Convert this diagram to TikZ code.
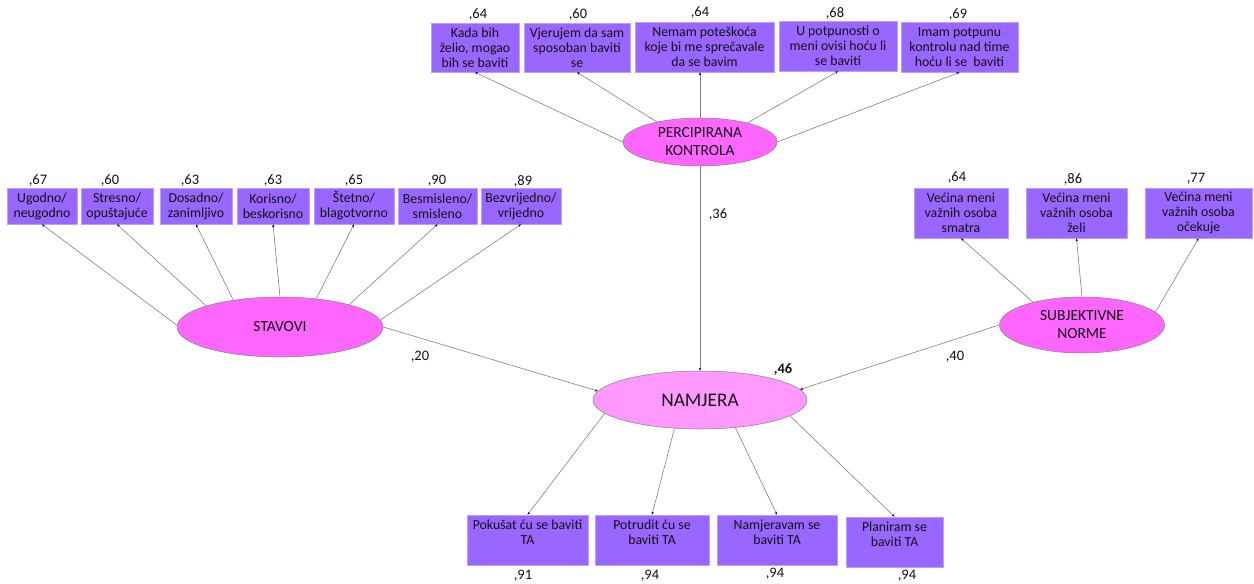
\documentclass[tikz,border=0pt]{standalone}
\usepackage{fontspec}
\setmainfont{Carlito}
\usetikzlibrary{arrows.meta,shapes.geometric}
\definecolor{boxfill}{HTML}{9966FF}
\definecolor{boxline}{HTML}{B8A0FF}
\definecolor{ellfill}{HTML}{FF66FF}
\definecolor{namfill}{HTML}{FF99FF}
\definecolor{conncol}{HTML}{808080}
\definecolor{txtcol}{HTML}{111111}
\begin{document}
\begin{tikzpicture}[x=1pt,y=-1pt,
  obox/.style={rectangle, draw=boxline, fill=boxfill, line width=0.6pt, inner sep=1pt, align=center, text=txtcol, font=\fontsize{13.8}{15}\selectfont},
  lat/.style={ellipse, draw=conncol, line width=0.5pt, fill=ellfill, inner sep=0pt, align=center, text=txtcol, font=\fontsize{15.5}{18}\selectfont},
  conn/.style={draw=conncol, line width=0.6pt, -{Stealth[length=3pt,width=2.4pt,black]}},
  coef/.style={inner sep=0pt, text=txtcol, font=\fontsize{14.5}{16}\selectfont}]
\useasboundingbox (0,0) rectangle (1254,584);
% latent variables
\node[lat, minimum width=154pt, minimum height=48pt] (perc) at (700,142) {PERCIPIRANA\\KONTROLA};
\node[lat, minimum width=206pt, minimum height=60pt] (stav) at (280,327) {STAVOVI};
\node[lat, minimum width=165pt, minimum height=56pt] (subj) at (1082,325) {SUBJEKTIVNE\\NORME};
\node[lat, fill=namfill, minimum width=214pt, minimum height=58pt, font=\fontsize{19.3}{21}\selectfont] (namj) at (700,400) {NAMJERA};
% perceived control indicators
\node[obox, minimum width=88pt, minimum height=49pt] (p1) at (475,47.5) {Kada bih\\želio, mogao\\bih se baviti};
\node[obox, minimum width=106pt, minimum height=49pt] (p2) at (577,47.5) {Vjerujem da sam\\sposoban baviti\\se};
\node[obox, minimum width=139pt, minimum height=50pt] (p3) at (704.5,47) {Nemam poteškoća\\koje bi me sprečavale\\da se bavim};
\node[obox, minimum width=118pt, minimum height=50pt] (p4) at (838,46) {U potpunosti o\\meni ovisi hoću li\\se baviti};
\node[obox, minimum width=117pt, minimum height=50pt] (p5) at (959.5,47) {Imam potpunu\\kontrolu nad time\\hoću li se\ \ baviti};
\node[coef] (cp1) at (478,15) {,64};
\node[coef] (cp2) at (578,15) {,60};
\node[coef] (cp3) at (700,13) {,64};
\node[coef] (cp4) at (835,13) {,68};
\node[coef] (cp5) at (958,15) {,69};
% attitude indicators
\node[obox, minimum width=70pt, minimum height=36pt] (s1) at (42,206) {Ugodno/\\neugodno};
\node[obox, minimum width=72pt, minimum height=36pt] (s2) at (117,206) {Stresno/\\opuštajuće};
\node[obox, minimum width=72pt, minimum height=36pt] (s3) at (196,206) {Dosadno/\\zanimljivo};
\node[obox, minimum width=72pt, minimum height=36pt] (s4) at (273,206) {Korisno/\\beskorisno};
\node[obox, minimum width=80pt, minimum height=36pt] (s5) at (354,206) {Štetno/\\blagotvorno};
\node[obox, minimum width=79pt, minimum height=36pt] (s6) at (437.5,206) {Besmisleno/\\smisleno};
\node[obox, minimum width=80pt, minimum height=36pt] (s7) at (521,206) {Bezvrijedno/\\vrijedno};
\node[coef] (cs1) at (38,181) {,67};
\node[coef] (cs2) at (110,181) {,60};
\node[coef] (cs3) at (190,181) {,63};
\node[coef] (cs4) at (273,181) {,63};
\node[coef] (cs5) at (354,181) {,65};
\node[coef] (cs6) at (437,181) {,90};
\node[coef] (cs7) at (523,181) {,89};
% subjective norm indicators
\node[obox, minimum width=94pt, minimum height=50pt] (n1) at (961,213) {Većina meni\\važnih osoba\\smatra};
\node[obox, minimum width=101pt, minimum height=50pt] (n2) at (1076.5,213) {Većina meni\\važnih osoba\\želi};
\node[obox, minimum width=107pt, minimum height=50pt] (n3) at (1198.5,213) {Većina meni\\važnih osoba\\očekuje};
\node[coef] (cn1) at (957,178) {,64};
\node[coef] (cn2) at (1073,179) {,86};
\node[coef] (cn3) at (1196,179) {,77};
% intention indicators
\node[obox, minimum width=121pt, minimum height=50pt] (b1) at (527.5,540) {Pokušat ću se baviti\\TA\\\mbox{}};
\node[obox, minimum width=114pt, minimum height=50pt] (b2) at (652,540) {Potrudit ću se\\baviti TA\\\mbox{}};
\node[obox, minimum width=120pt, minimum height=50pt] (b3) at (777,540) {Namjeravam se\\baviti TA\\\mbox{}};
\node[obox, minimum width=97pt, minimum height=50pt] (b4) at (894.5,542) {Planiram se\\baviti TA\\\mbox{}};
\node[coef] (cb1) at (523,576) {,91};
\node[coef] (cb2) at (650,576) {,94};
\node[coef] (cb3) at (775,574) {,94};
\node[coef] (cb4) at (907,576) {,94};
% structural coefficients
\node[coef] (c36) at (718,215) {,36};
\node[coef] (c20) at (420,357) {,20};
\node[coef] (c40) at (955,357) {,40};
\node[coef, font=\bfseries\fontsize{14.5}{16}\selectfont] (c46) at (783,370) {,46};
% connectors: perceived control
\draw[conn] (perc.180) -- (p1.south);
\draw[conn] (perc.155) -- (p2.south);
\draw[conn] (perc.north) -- (perc.north |- p3.south);
\draw[conn] (perc.22) -- (p4.south);
\draw[conn] (perc.0) -- (p5.south);
% connectors: attitudes
\draw[conn] (stav.179) -- (s1.south);
\draw[conn] (stav.164) -- (s2.south);
\draw[conn] (stav.150) -- (s3.south);
\draw[conn] (stav.north) -- (s4.south);
\draw[conn] (stav.38) -- (s5.south);
\draw[conn] (stav.18) -- (s6.south);
\draw[conn] (stav.4) -- (s7.south);
% connectors: subjective norms
\draw[conn] (subj.155) -- (n1.south);
\draw[conn] (subj.north) -- (n2.south);
\draw[conn] (subj.10) -- (n3.south);
% connectors: intention
\draw[conn] (namj.188) -- (b1.north);
\draw[conn] (namj.228) -- (b2.north);
\draw[conn] (namj.322) -- (b3.north);
\draw[conn] (namj.350) -- (b4.north);
% structural paths
\draw[conn] (perc.south) -- (namj.north);
\draw[conn] (stav.east) -- (namj.175);
\draw[conn] (subj.west) -- (namj.6);
\end{tikzpicture}
\end{document}
